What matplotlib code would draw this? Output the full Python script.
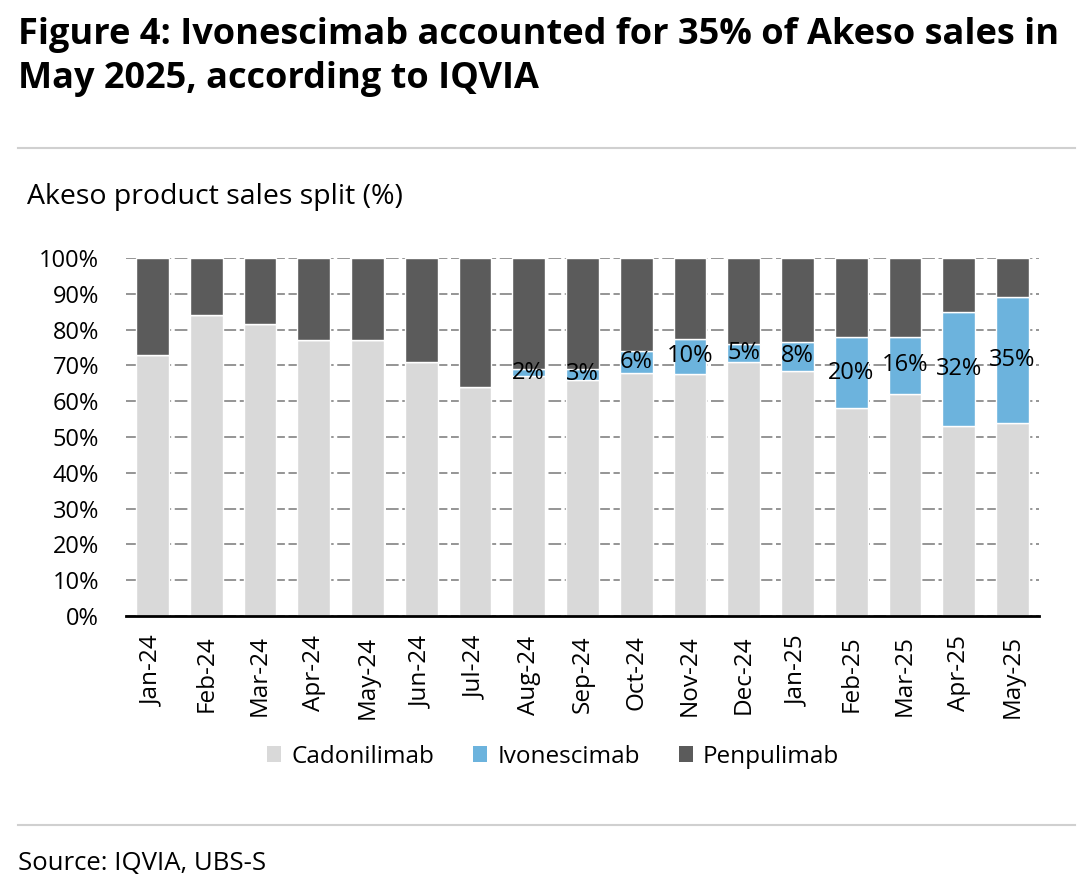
import matplotlib
matplotlib.use("Agg")
import matplotlib.pyplot as plt
from matplotlib.lines import Line2D
from matplotlib.patches import Patch
import numpy as np

months = ["Jan-24", "Feb-24", "Mar-24", "Apr-24", "May-24", "Jun-24", "Jul-24",
          "Aug-24", "Sep-24", "Oct-24", "Nov-24", "Dec-24", "Jan-25", "Feb-25",
          "Mar-25", "Apr-25", "May-25"]
cadonilimab = [73, 84, 81.5, 77, 77, 71, 64, 67, 66, 68, 67.5, 71, 68.5, 58, 62, 53, 54]
ivonescimab = [0, 0, 0, 0, 0, 0, 0, 2, 3, 6, 10, 5, 8, 20, 16, 32, 35]
ivo_labels = ["", "", "", "", "", "", "", "2%", "3%", "6%", "10%", "5%", "8%",
              "20%", "16%", "32%", "35%"]
penpulimab = [100 - c - i for c, i in zip(cadonilimab, ivonescimab)]

C_CAD = "#D9D9D9"
C_IVO = "#6CB3DD"
C_PEN = "#5B5B5B"

plt.rcParams['font.family'] = ['Open Sans', 'DejaVu Sans']

fig = plt.figure(figsize=(10.8, 8.85), dpi=100)

# Title
fig.text(0.017, 0.981, "Figure 4: Ivonescimab accounted for 35% of Akeso sales in\nMay 2025, according to IQVIA",
         ha="left", va="top", fontsize=26, fontweight="bold", linespacing=1.3)

# separator lines
fig.add_artist(Line2D([0.017, 0.995], [0.833, 0.833], color="#D0D0D0", lw=1.5))
fig.add_artist(Line2D([0.017, 0.995], [0.068, 0.068], color="#D0D0D0", lw=1.5))

fig.text(0.025, 0.777, "Akeso product sales split (%)", ha="left", va="center", fontsize=20.5)
fig.text(0.017, 0.024, "Source: IQVIA, UBS-S", ha="left", va="center", fontsize=18.5)

ax = fig.add_axes([0.1163, 0.304, 0.846, 0.4045])
x = np.arange(len(months))
w = 0.61
ax.bar(x, cadonilimab, w, color=C_CAD, edgecolor="white", linewidth=1, label="Cadonilimab", zorder=2)
ax.bar(x, ivonescimab, w, bottom=cadonilimab, color=C_IVO, edgecolor="white", linewidth=1,
       label="Ivonescimab", zorder=2)
bottoms2 = [c + i for c, i in zip(cadonilimab, ivonescimab)]
ax.bar(x, penpulimab, w, bottom=bottoms2, color=C_PEN, edgecolor="white", linewidth=1,
       label="Penpulimab", zorder=2)

for xi, c, i, lab in zip(x, cadonilimab, ivonescimab, ivo_labels):
    if lab:
        ax.text(xi, c + i / 2, lab, ha="center", va="center", fontsize=17, color="black", zorder=3)

ax.set_xlim(-0.5, len(months) - 0.5)
ax.set_ylim(0, 100)
ax.set_yticks(np.arange(0, 101, 10))
ax.set_yticklabels([f"{v}%" for v in range(0, 101, 10)], fontsize=17)
ax.set_xticks(x)
ax.set_xticklabels(months, rotation=90, fontsize=17.5)
ax.tick_params(axis="x", length=0, pad=14)
ax.tick_params(axis="y", length=0, pad=19)
ax.yaxis.grid(True, color="#8C8C8C", linestyle=(0, (7, 2)), linewidth=1.3, zorder=0)
ax.set_axisbelow(True)
for s in ["top", "right", "left"]:
    ax.spines[s].set_visible(False)
ax.spines["bottom"].set_color("black")
ax.spines["bottom"].set_linewidth(2)

handles = [Patch(facecolor=C_CAD, label="Cadonilimab"),
           Patch(facecolor=C_IVO, label="Ivonescimab"),
           Patch(facecolor=C_PEN, label="Penpulimab")]
fig.legend(handles=handles, loc="center", bbox_to_anchor=(0.512, 0.145), ncol=3, frameon=False,
           fontsize=17.5, handlelength=0.6, handleheight=0.6, handletextpad=0.4, columnspacing=1.6)

fig.savefig("out.png", dpi=100, facecolor="white")
